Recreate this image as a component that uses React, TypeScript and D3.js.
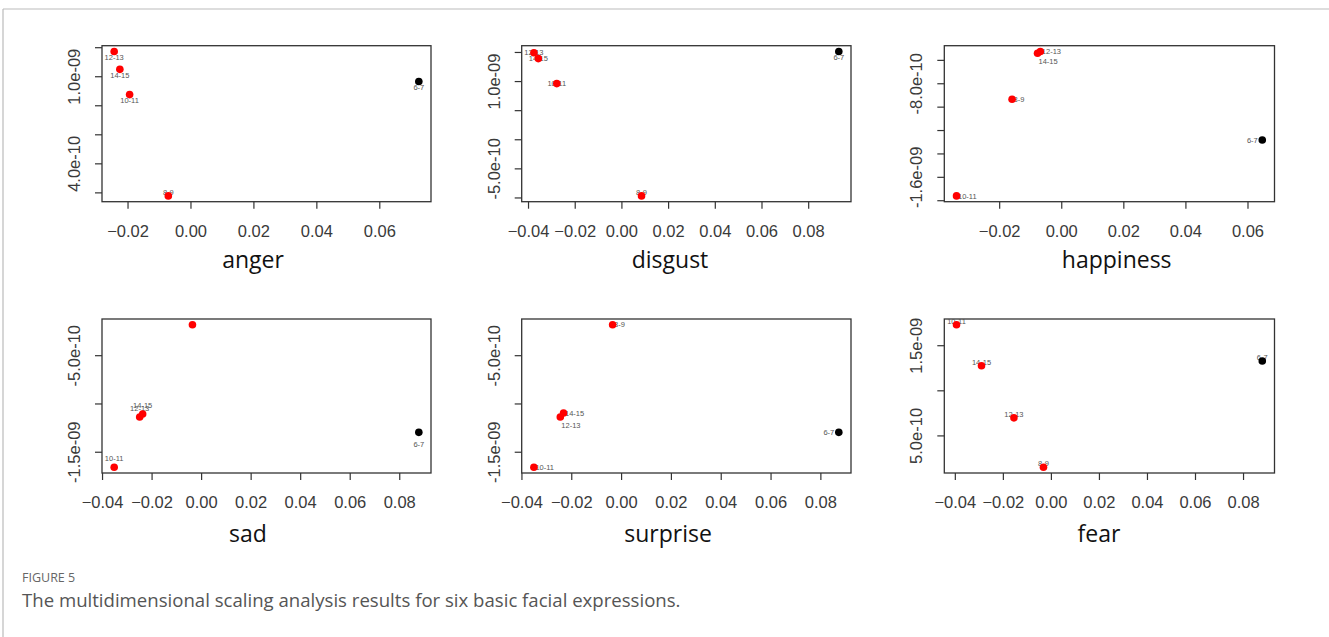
import React from "react";
import * as d3 from "d3";

// ---------- data ----------
const groups = ["6-7", "8-9", "10-11", "12-13", "14-15"];

const angerX = [0.0724, -0.0072, -0.0195, -0.0244, -0.0226];
const angerY = [9.67e-10, 1.79e-10, 8.77e-10, 1.174e-9, 1.051e-9];

const disgustX = [0.0929, 0.0084, -0.0279, -0.0377, -0.0358];
const disgustY = [1.517e-9, -9.65e-10, 9.65e-10, 1.495e-9, 1.395e-9];

const happinessX = [0.0646, -0.016, -0.0339, -0.0069, -0.0078];
const happinessY = [-1.281e-9, -9.33e-10, -1.759e-9, -5.24e-10, -5.39e-10];

const sadX = [0.0877, -0.0037, -0.0353, -0.025, -0.0238];
const sadY = [-1.294e-9, -1.79e-10, -1.656e-9, -1.135e-9, -1.104e-9];

const surpriseX = [0.0872, -0.0036, -0.0352, -0.0246, -0.0233];
const surpriseY = [-1.294e-9, -1.79e-10, -1.656e-9, -1.135e-9, -1.093e-9];

const fearX = [0.0878, -0.0033, -0.0395, -0.0156, -0.0291];
const fearY = [1.33e-9, 1.52e-10, 1.733e-9, 7.0e-10, 1.278e-9];

// tick values / labels
const xTicksA = [-0.02, 0.0, 0.02, 0.04, 0.06];
const xTicksB = [-0.04, -0.02, 0.0, 0.02, 0.04, 0.06, 0.08];

const angerYTicks = [2e-10, 4e-10, 6e-10, 8e-10, 1e-9, 1.2e-9];
const angerYLabels: [number, string][] = [[4e-10, "4.0e-10"], [1e-9, "1.0e-09"]];

const disgustYTicks = [-1e-9, -5e-10, 0, 5e-10, 1e-9, 1.5e-9];
const disgustYLabels: [number, string][] = [[-5e-10, "-5.0e-10"], [1e-9, "1.0e-09"]];

const happinessYTicks = [-1.8e-9, -1.6e-9, -1.4e-9, -1.2e-9, -1e-9, -8e-10, -6e-10];
const happinessYLabels: [number, string][] = [[-1.6e-9, "-1.6e-09"], [-8e-10, "-8.0e-10"]];

const sadYTicks = [-1.5e-9, -1e-9, -5e-10];
const sadYLabels: [number, string][] = [[-1.5e-9, "-1.5e-09"], [-5e-10, "-5.0e-10"]];

const fearYTicks = [5e-10, 1e-9, 1.5e-9];
const fearYLabels: [number, string][] = [[5e-10, "5.0e-10"], [1.5e-9, "1.5e-09"]];

const caption1 = "FIGURE 5";
const caption2 = "The multidimensional scaling analysis results for six basic facial expressions.";

// ---------- layout / style ----------
const pointColor = ["#000000", "#ff0000", "#ff0000", "#ff0000", "#ff0000"];

// label placement code per point (layout only)
const angerPos = ["b", "o", "b", "b", "b"];
const disgustPos = ["b", "o", "c", "c", "c"];
const happinessPos = ["l", "r", "r", "r", "br"];
const sadPos = ["bb", "n", "a", "a", "a"];
const surprisePos = ["l", "r", "r", "br", "r"];
const fearPos = ["o", "o", "o", "o", "o"];

const COLS: [number, number][] = [[102, 431], [521.7, 851], [944.3, 1274.5]];
const ROWS: [number, number][] = [[45.7, 201.7], [319, 473]];

const fmtX = d3.format(".2f");

type PanelProps = {
  name: string;
  xs: number[];
  ys: number[];
  pos: string[];
  xTicks: number[];
  yTicks: number[];
  yLabels: [number, string][];
  col: number;
  row: number;
  titleX: number;
};

function padded(v: number[]): [number, number] {
  const [a, b] = d3.extent(v) as [number, number];
  const p = (b - a) * 0.04;
  return [a - p, b + p];
}

function Panel({ name, xs, ys, pos, xTicks, yTicks, yLabels, col, row, titleX }: PanelProps) {
  const [x0, x1] = COLS[col];
  const [y0, y1] = ROWS[row];
  const x = d3.scaleLinear().domain(padded(xs)).range([x0, x1]);
  const y = d3.scaleLinear().domain(padded(ys)).range([y1, y0]);
  const tick = 7;
  const tickColor = "#333";
  const labelFont = "'Liberation Sans', Arial, sans-serif";

  const labelFor = (i: number) => {
    const p = pos[i];
    if (p === "n") return null;
    const px = x(xs[i]);
    const py = y(ys[i]);
    let dx = 0, cy = 0, anchor = "middle";
    switch (p) {
      case "c": cy = 0; break;
      case "o": cy = -3.5; break;
      case "a": cy = -9; break;
      case "b": cy = 6; break;
      case "bb": cy = 11.5; break;
      case "r": dx = 1.5; anchor = "start"; break;
      case "l": dx = -4.5; anchor = "end"; break;
      case "br": dx = 1; cy = 8; anchor = "start"; break;
    }
    return (
      <text key={"l" + i} x={px + dx} y={py + cy + 2.7} fontSize={7.5}
        fontFamily={labelFont} fill="#555" textAnchor={anchor}>{groups[i]}</text>
    );
  };

  return (
    <g>
      <rect x={x0} y={y0} width={x1 - x0} height={y1 - y0} fill="none" stroke="#333" strokeWidth={1.3} />
      {xTicks.map((t) => (
        <g key={"xt" + t}>
          <line x1={x(t)} x2={x(t)} y1={y1} y2={y1 + tick} stroke={tickColor} strokeWidth={1.2} />
          <text x={x(t)} y={y1 + 35} textAnchor="middle" fontSize={16.5} fontFamily={labelFont} fill="#3a3a3a">
            {fmtX(t)}
          </text>
        </g>
      ))}
      {yTicks.map((t) => (
        <line key={"yt" + t} x1={x0 - tick} x2={x0} y1={y(t)} y2={y(t)} stroke={tickColor} strokeWidth={1.2} />
      ))}
      {yLabels.map(([v, s]) => (
        <text key={"yl" + v} transform={`translate(${x0 - 22},${y(v)}) rotate(-90)`} textAnchor="middle"
          fontSize={16.5} fontFamily={labelFont} fill="#3a3a3a">{s}</text>
      ))}
      {xs.map((_, i) => labelFor(i))}
      {xs.map((v, i) => (
        <circle key={"p" + i} cx={x(v)} cy={y(ys[i])} r={3.8} fill={pointColor[i]} />
      ))}
      <text x={titleX} y={row === 0 ? 268 : 541.5} textAnchor="middle" fontSize={23}
        fontFamily="'Open Sans', 'Noto Sans', sans-serif" fill="#111">{name}</text>
    </g>
  );
}

export default function App() {
  return (
    <svg width={1329} height={637} style={{ position: "absolute", left: 0, top: 0, background: "#fff" }}>
      <rect x={0} y={0} width={1329} height={637} fill="#fff" />
      <line x1={3} x2={1329} y1={9} y2={9} stroke="#bbb" strokeWidth={1.2} />
      <line x1={3} x2={3} y1={9} y2={637} stroke="#bbb" strokeWidth={1.2} />
      <Panel name="anger" xs={angerX} ys={angerY} pos={angerPos} xTicks={xTicksA} yTicks={angerYTicks} yLabels={angerYLabels} col={0} row={0} titleX={253} />
      <Panel name="disgust" xs={disgustX} ys={disgustY} pos={disgustPos} xTicks={xTicksB} yTicks={disgustYTicks} yLabels={disgustYLabels} col={1} row={0} titleX={670} />
      <Panel name="happiness" xs={happinessX} ys={happinessY} pos={happinessPos} xTicks={xTicksA} yTicks={happinessYTicks} yLabels={happinessYLabels} col={2} row={0} titleX={1116.7} />
      <Panel name="sad" xs={sadX} ys={sadY} pos={sadPos} xTicks={xTicksB} yTicks={sadYTicks} yLabels={sadYLabels} col={0} row={1} titleX={248} />
      <Panel name="surprise" xs={surpriseX} ys={surpriseY} pos={surprisePos} xTicks={xTicksB} yTicks={sadYTicks} yLabels={sadYLabels} col={1} row={1} titleX={668} />
      <Panel name="fear" xs={fearX} ys={fearY} pos={fearPos} xTicks={xTicksB} yTicks={fearYTicks} yLabels={fearYLabels} col={2} row={1} titleX={1099} />
      <text x={22} y={582} fontSize={12.5} fontFamily="'Open Sans', 'Noto Sans', sans-serif" fill="#666">{caption1}</text>
      <text x={22} y={607} fontSize={18.6} fontFamily="'Open Sans', 'Noto Sans', sans-serif" fill="#555">{caption2}</text>
    </svg>
  );
}
